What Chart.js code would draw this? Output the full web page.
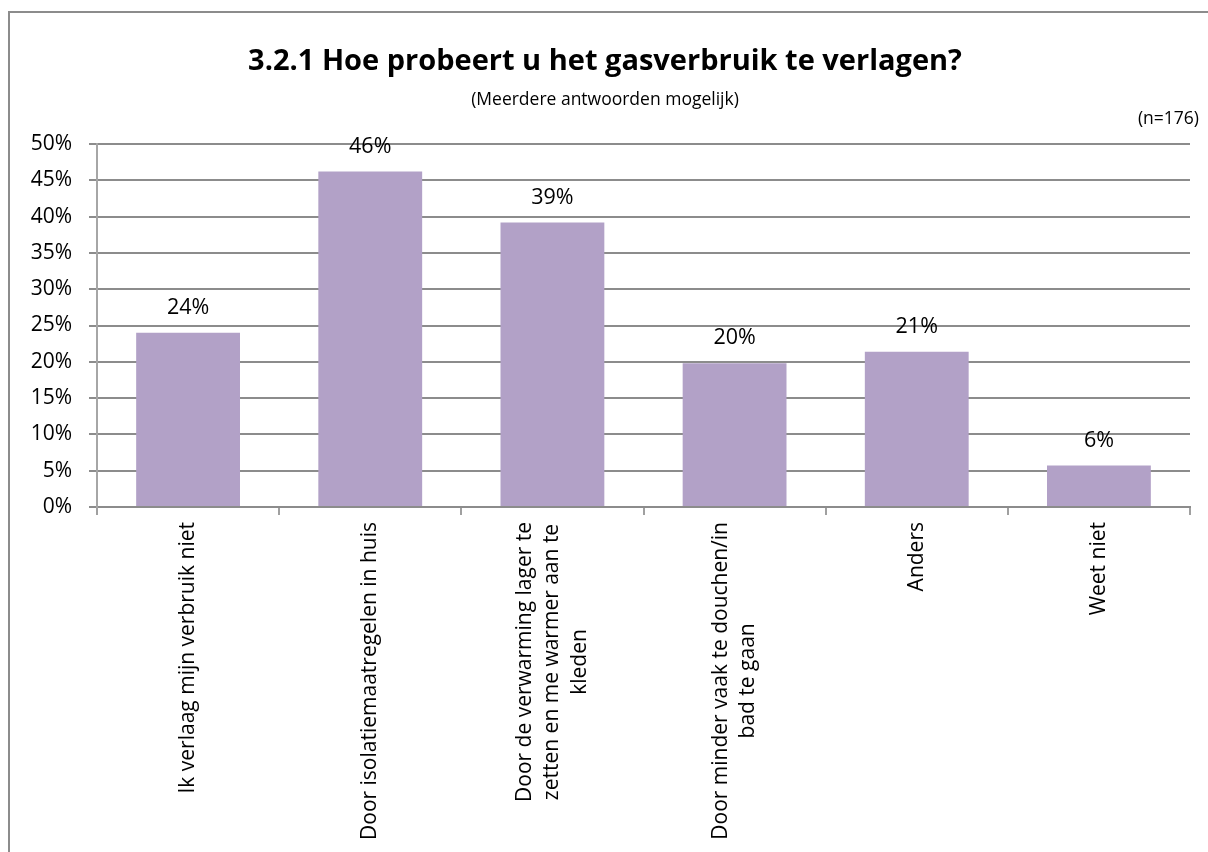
<!DOCTYPE html>
<html>
<head>
<meta charset="utf-8">
<script src="https://cdn.jsdelivr.net/npm/chart.js@4.4.0/dist/chart.umd.min.js"></script>
<style>
  html, body { margin: 0; padding: 0; background: #fff; }
  canvas { display: block; }
</style>
</head>
<body>
<canvas id="c" width="1208" height="852"></canvas>
<script>
// gegevens
const titleText = "3.2.1 Hoe probeert u het gasverbruik te verlagen?";
const subtitleText = "(Meerdere antwoorden mogelijk)";
const countText = "(n=176)";

const categories = [
  ["Ik verlaag mijn verbruik niet"],
  ["Door isolatiemaatregelen in huis"],
  ["Door de verwarming lager te", "zetten en me warmer aan te", "kleden"],
  ["Door minder vaak te douchen/in", "bad te gaan"],
  ["Anders"],
  ["Weet niet"]
];
const values = [24.0, 46.2, 39.2, 19.8, 21.4, 5.7];
const yTickValues = [0, 5, 10, 15, 20, 25, 30, 35, 40, 45, 50];

const FONT = '"Open Sans", "Noto Sans", sans-serif';
const GRID = "#8c8c8c";

// kader, titels, waardelabels en categorielabels (gecentreerde regels zoals Excel)
const decor = {
  id: "decor",
  beforeDraw(chart) {
    const ctx = chart.ctx;
    ctx.save();
    ctx.fillStyle = "#fff";
    ctx.fillRect(0, 0, chart.width, chart.height);
    ctx.strokeStyle = "#8c8c8c";
    ctx.lineWidth = 2;
    ctx.beginPath();
    ctx.moveTo(9, chart.height);
    ctx.lineTo(9, 12);
    ctx.lineTo(chart.width, 12);
    ctx.stroke();
    ctx.restore();
  },
  afterDraw(chart) {
    const ctx = chart.ctx;
    const area = chart.chartArea;
    const cx = 605;
    ctx.save();
    ctx.fillStyle = "#000";
    ctx.textBaseline = "middle";

    ctx.textAlign = "center";
    ctx.font = "bold 29px " + FONT;
    ctx.fillText(titleText, cx, 62);
    ctx.font = "17.5px " + FONT;
    ctx.fillText(subtitleText, cx, 100);
    ctx.textAlign = "right";
    ctx.fillText(countText, 1199, 119);

    // waarden boven de staven
    ctx.textAlign = "center";
    ctx.font = "21.5px " + FONT;
    chart.getDatasetMeta(0).data.forEach((bar, i) => {
      ctx.fillText(Math.round(values[i]) + "%", bar.x, bar.y - 25);
    });

    // categorielabels, 90 graden gedraaid
    const xs = chart.scales.x;
    const lh = 27.5;
    ctx.font = "21px " + FONT;
    categories.forEach((lines, i) => {
      const px = xs.getPixelForValue(i);
      const maxW = Math.max(...lines.map(l => ctx.measureText(l).width));
      ctx.save();
      ctx.translate(px, area.bottom + 15);
      ctx.rotate(-Math.PI / 2);
      lines.forEach((l, j) => {
        ctx.fillText(l, -maxW / 2, (j - (lines.length - 1) / 2) * lh);
      });
      ctx.restore();
    });
    ctx.restore();
  }
};

new Chart(document.getElementById("c"), {
  type: "bar",
  data: {
    labels: categories,
    datasets: [{
      data: values,
      backgroundColor: "#b2a1c7",
      borderWidth: 0,
      barPercentage: 0.57,
      categoryPercentage: 1.0
    }]
  },
  options: {
    responsive: false,
    animation: false,
    layout: { padding: { top: 144, right: 18, left: 0, bottom: 0 } },
    plugins: {
      legend: { display: false },
      title: { display: false },
      tooltip: { enabled: false }
    },
    scales: {
      x: {
        grid: {
          display: true,
          drawOnChartArea: false,
          drawTicks: true,
          tickLength: 8,
          color: "#a0a0a0",
          lineWidth: 2,
          offset: true
        },
        border: { color: GRID, width: 2 },
        ticks: { display: false },
        afterFit(scale) { scale.height = 345; }
      },
      y: {
        min: 0,
        max: 50,
        afterBuildTicks(scale) {
          scale.ticks = yTickValues.map(v => ({ value: v }));
        },
        grid: {
          color: GRID,
          lineWidth: 2,
          drawTicks: true,
          tickLength: 8
        },
        border: { color: "#a6a6a6", width: 2 },
        ticks: {
          color: "#000",
          padding: 17,
          font: { family: FONT, size: 21 },
          callback: v => v + "%"
        },
        afterFit(scale) { scale.width = 97; }
      }
    }
  },
  plugins: [decor]
});
</script>
</body>
</html>
